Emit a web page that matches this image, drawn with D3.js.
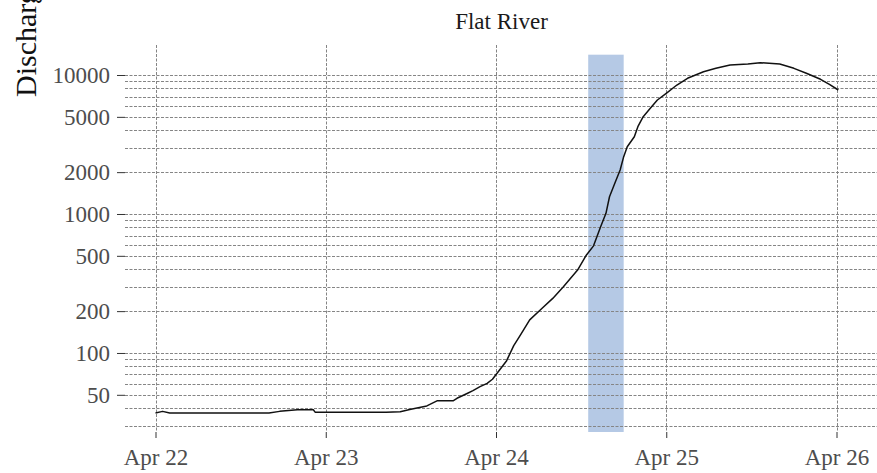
<!DOCTYPE html>
<html>
<head>
<meta charset="utf-8">
<script src="https://cdn.jsdelivr.net/npm/d3@7"></script>
<style>
  body { margin: 0; background: white; }
  svg { display: block; font-family: "Liberation Serif", serif; }
</style>
</head>
<body>
<svg></svg>
<script>
// discharge readings
const times = [
  "2024-04-22 00:00", "2024-04-22 01:00", "2024-04-22 02:00", "2024-04-22 16:00",
  "2024-04-22 17:30", "2024-04-22 20:00", "2024-04-22 22:15", "2024-04-22 22:30",
  "2024-04-23 08:30", "2024-04-23 10:30", "2024-04-23 12:00", "2024-04-23 14:15",
  "2024-04-23 15:45", "2024-04-23 18:00", "2024-04-23 18:30", "2024-04-23 20:00",
  "2024-04-23 20:45", "2024-04-23 21:45", "2024-04-23 22:45", "2024-04-23 23:30",
  "2024-04-24 00:30", "2024-04-24 01:30", "2024-04-24 02:30", "2024-04-24 03:30",
  "2024-04-24 04:45", "2024-04-24 06:30", "2024-04-24 08:00", "2024-04-24 09:30",
  "2024-04-24 11:30", "2024-04-24 12:45", "2024-04-24 13:45", "2024-04-24 14:45",
  "2024-04-24 15:30", "2024-04-24 16:00", "2024-04-24 16:45", "2024-04-24 17:30",
  "2024-04-24 18:00", "2024-04-24 18:30", "2024-04-24 19:30", "2024-04-24 20:00",
  "2024-04-24 20:45", "2024-04-24 21:45", "2024-04-24 22:45", "2024-04-25 00:00",
  "2024-04-25 01:30", "2024-04-25 03:00", "2024-04-25 05:15", "2024-04-25 07:00",
  "2024-04-25 09:00", "2024-04-25 11:30", "2024-04-25 13:15", "2024-04-25 16:00",
  "2024-04-25 18:00", "2024-04-25 19:45", "2024-04-25 21:45", "2024-04-25 23:00",
  "2024-04-26 00:15"
];
const discharge = [
  37, 38, 37, 37,
  38, 39, 39, 37.5,
  37.5, 37.8, 39.4, 41.6,
  45.4, 45.4, 47.2, 51.3,
  53.6, 57.2, 60.5, 64.7,
  75.5, 88, 113, 136,
  173, 210, 247, 300,
  395, 507, 590, 810,
  1011, 1331, 1663, 2072,
  2585, 3049, 3597, 4246,
  5012, 5757, 6607, 7386,
  8472, 9469, 10560, 11170,
  11800, 12000, 12250, 12000,
  11170, 10290, 9312, 8570,
  7800
];

// shaded window
const highlightStart = "2024-04-24 13:00";
const highlightEnd = "2024-04-24 18:00";
const highlightTop = 14000;

const xTickDates = ["2024-04-22 00:00", "2024-04-23 00:00", "2024-04-24 00:00", "2024-04-25 00:00", "2024-04-26 00:00"];
const yTickValues = [50, 100, 200, 500, 1000, 2000, 5000, 10000];

const titleText = "Flat River";
const yTitle = "Discharge (cfs)";

const W = 877, H = 473;
const panel = { left: 125, right: 878, top: 45, bottom: 432 };

const parse = d3.timeParse("%Y-%m-%d %H:%M");
const data = times.map((t, i) => ({ date: parse(t), value: discharge[i] }));

const svg = d3.select("svg")
  .attr("width", W)
  .attr("height", H);

const x = d3.scaleTime()
  .domain([parse(xTickDates[0]), parse(xTickDates[xTickDates.length - 1])])
  .range([155.5, 836.5]);

const y = d3.scaleLog()
  .domain([27, 16440])
  .range([panel.bottom, panel.top]);

// highlight band (semi transparent so the grid shows through)
svg.append("rect")
  .attr("x", x(parse(highlightStart)))
  .attr("y", y(highlightTop))
  .attr("width", x(parse(highlightEnd)) - x(parse(highlightStart)))
  .attr("height", panel.bottom - y(highlightTop))
  .attr("fill", "rgb(70,120,190)")
  .attr("fill-opacity", 0.4);

// horizontal grid, major and minor
svg.append("g")
  .selectAll("line")
  .data(y.ticks())
  .join("line")
  .attr("x1", panel.left)
  .attr("x2", panel.right)
  .attr("y1", d => Math.round(y(d)) + 0.5)
  .attr("y2", d => Math.round(y(d)) + 0.5)
  .attr("stroke", "#858585")
  .attr("stroke-width", 1)
  .attr("stroke-dasharray", "3,1.5");

// vertical grid
svg.append("g")
  .selectAll("line")
  .data(xTickDates.map(parse))
  .join("line")
  .attr("x1", d => Math.round(x(d)) + 0.5)
  .attr("x2", d => Math.round(x(d)) + 0.5)
  .attr("y1", panel.top)
  .attr("y2", panel.bottom)
  .attr("stroke", "#858585")
  .attr("stroke-width", 1)
  .attr("stroke-dasharray", "3,1.5");

// discharge line
const line = d3.line()
  .x(d => x(d.date))
  .y(d => y(d.value));

svg.append("path")
  .datum(data)
  .attr("fill", "none")
  .attr("stroke", "#111")
  .attr("stroke-width", 1.5)
  .attr("stroke-linejoin", "round")
  .attr("d", line);

// y axis
const yAxis = svg.append("g")
  .attr("transform", `translate(${panel.left},0)`)
  .call(d3.axisLeft(y)
    .tickValues(yTickValues)
    .tickFormat(d3.format("d"))
    .tickSize(8)
    .tickPadding(7));
yAxis.select(".domain").remove();
yAxis.selectAll("line").attr("stroke", "#333");
yAxis.selectAll("text")
  .attr("fill", "#4d4d4d")
  .style("font-family", "Liberation Serif")
  .style("font-size", "23px");

// x axis
const xAxis = svg.append("g")
  .attr("transform", `translate(0,${panel.bottom})`)
  .call(d3.axisBottom(x)
    .tickValues(xTickDates.map(parse))
    .tickFormat(d3.timeFormat("%b %d"))
    .tickSize(6)
    .tickPadding(11));
xAxis.select(".domain").remove();
xAxis.selectAll("line").attr("stroke", "#333");
xAxis.selectAll("text")
  .attr("fill", "#4d4d4d")
  .style("font-family", "Liberation Serif")
  .style("font-size", "23px");

// title
svg.append("text")
  .attr("x", (panel.left + panel.right) / 2)
  .attr("y", 29)
  .attr("text-anchor", "middle")
  .attr("fill", "#1a1a1a")
  .style("font-size", "23px")
  .text(titleText);

// y axis title, runs off the top edge as in the reference
svg.append("text")
  .attr("transform", "translate(36,97) rotate(-90)")
  .attr("text-anchor", "start")
  .attr("fill", "#111")
  .style("font-size", "30px")
  .text(yTitle);
</script>
</body>
</html>
